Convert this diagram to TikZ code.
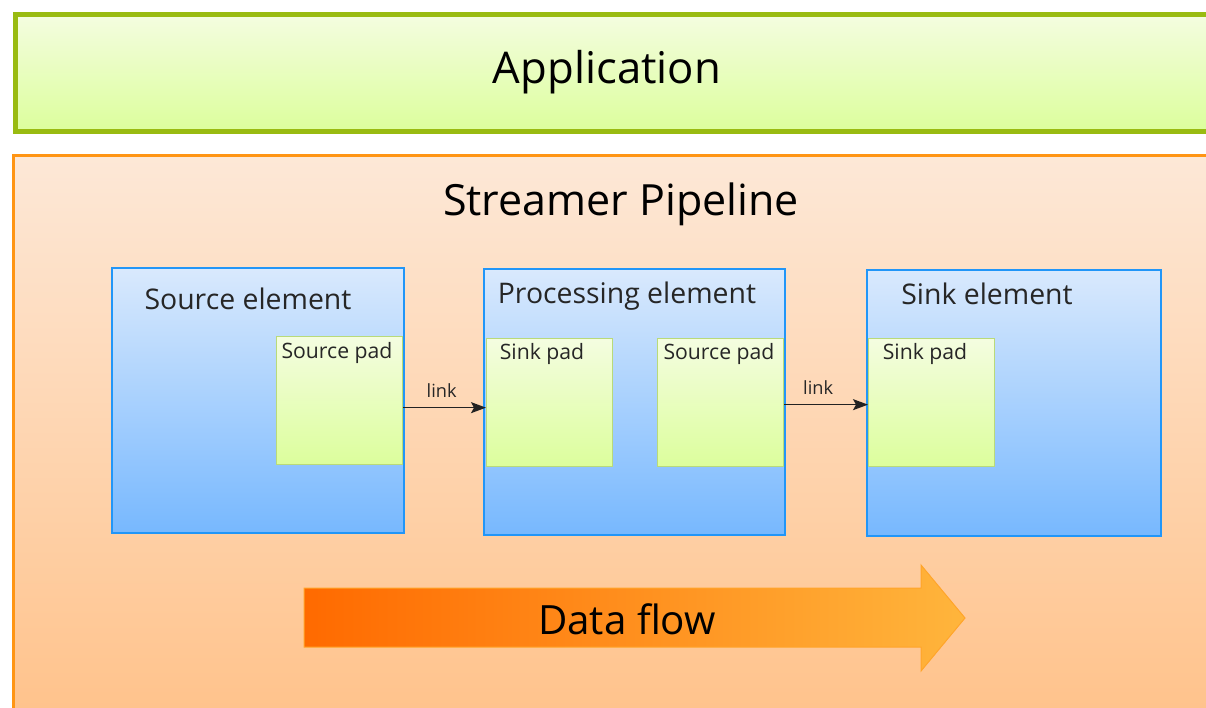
\documentclass[tikz,border=0pt]{standalone}
\usepackage{fontspec}
\setmainfont{Open Sans}
\usetikzlibrary{arrows.meta}
\definecolor{appborder}{HTML}{99BB11}
\definecolor{apptop}{HTML}{F4FDE0}
\definecolor{appbot}{HTML}{DCFE9C}
\definecolor{pipeborder}{HTML}{FF9514}
\definecolor{pipetop}{HTML}{FDE8D7}
\definecolor{pipebot}{HTML}{FFC28A}
\definecolor{elborder}{HTML}{2196F8}
\definecolor{eltop}{HTML}{D9E9FD}
\definecolor{elbot}{HTML}{77B8FE}
\definecolor{padborder}{HTML}{B9DA7A}
\definecolor{arrleft}{HTML}{FF6A00}
\definecolor{arrright}{HTML}{FFB53C}
\definecolor{arrborder}{HTML}{FFA52A}
\definecolor{linkcol}{HTML}{222222}
\tikzset{
  element/.style={draw=elborder, line width=2pt, top color=eltop, bottom color=elbot, inner sep=0pt, minimum width=#1},
  padbox/.style={draw=padborder, line width=1.3pt, top color=apptop, bottom color=appbot, inner sep=0pt, minimum width=126pt, minimum height=128pt},
  eltext/.style={font=\fontsize{28.4}{31}\selectfont, text=black!85},
  padtext/.style={font=\fontsize{21.2}{24}\selectfont, text=black!85},
  linktext/.style={font=\fontsize{18.2}{20}\selectfont, text=black!85},
  linkarrow/.style={draw=linkcol, line width=1.4pt, -{Stealth[length=15pt,width=11pt,inset=3pt]}},
  bigtext/.style={text=black}
}
\begin{document}
\begin{tikzpicture}[x=1pt,y=-1pt]
\useasboundingbox (0,0) rectangle (1206,707);
\fill[white] (0,0) rectangle (1206,707);
\clip (0,0) rectangle (1206,707);
% application
\node[draw=appborder, line width=5pt, top color=apptop, bottom color=appbot, inner sep=0pt, minimum width=1210pt, minimum height=117pt, anchor=north west] (app) at (12.5,11.5) {};
\node[bigtext, font=\fontsize{43.7}{48}\selectfont] (apptext) at (607,72) {Application};
% pipeline
\node[draw=pipeborder, line width=3pt, top color=pipetop, bottom color=pipebot, inner sep=0pt, minimum width=1210pt, minimum height=570pt, anchor=north west] (pipe) at (11.5,153.5) {};
\node[bigtext, font=\fontsize{43}{48}\selectfont] (pipetext) at (621,204) {Streamer Pipeline};
% elements
\node[element=292pt, minimum height=265pt, anchor=north west] (srcel) at (111,267) {};
\node[eltext] at (248,299) {Source element};
\node[padbox, anchor=north west] (srcpad) at (276,336) {};
\node[padtext] at (337,353) {Source pad};

\node[element=301pt, minimum height=266pt, anchor=north west] (procel) at (483,268) {};
\node[eltext] at (627,296) {Processing element};
\node[padbox, anchor=north west] (psink) at (486,338) {};
\node[padtext] at (542,354) {Sink pad};
\node[padbox, anchor=north west] (psrc) at (657,338) {};
\node[padtext] at (719,354) {Source pad};

\node[element=294pt, minimum height=266pt, anchor=north west] (sinkel) at (866,269) {};
\node[eltext] at (987,294) {Sink element};
\node[padbox, anchor=north west] (sinkpad) at (868,338) {};
\node[padtext] at (925,354) {Sink pad};

% links
\draw[linkarrow] ([yshift=-7pt]srcpad.east) -- ([yshift=-7pt]srcpad.east -| psink.west) node[midway, above=6pt, xshift=-3pt, linktext] {link};
\draw[linkarrow] ([yshift=-2pt]psrc.east) -- ([yshift=-2pt]psrc.east -| sinkpad.west) node[midway, above=6pt, xshift=-8pt, linktext] {link};

% data flow arrow
\shade[left color=arrleft, right color=arrright, draw=arrborder, line width=1pt]
  (304,588) -- (921,588) -- (921,565) -- (965,618) -- (921,671) -- (921,647) -- (304,647) -- cycle;
\node[font=\fontsize{40.3}{44}\selectfont, text=black] (flow) at (627,619) {Data flow};
\end{tikzpicture}
\end{document}
